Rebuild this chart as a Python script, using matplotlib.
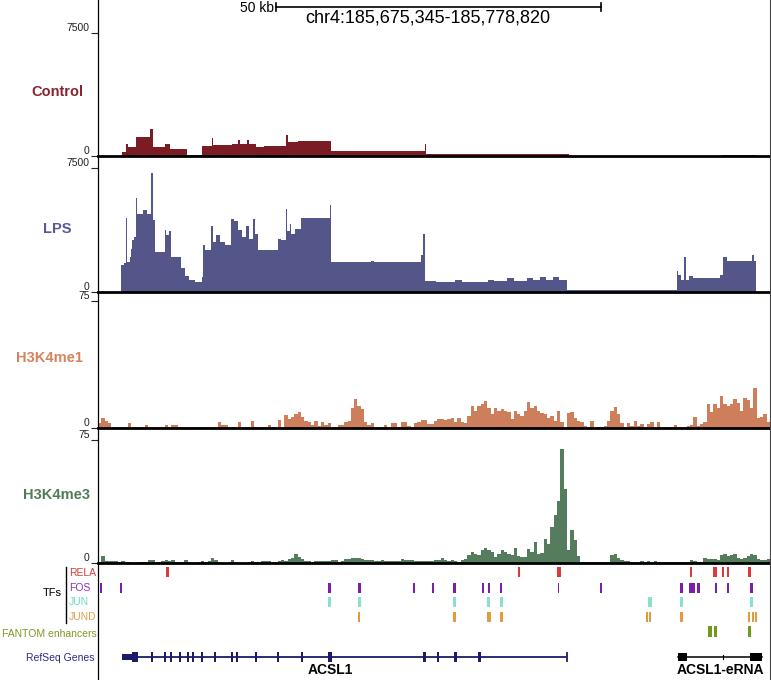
import numpy as np
import matplotlib
matplotlib.use("Agg")
import matplotlib.pyplot as plt
from matplotlib.lines import Line2D

plt.rcParams['font.family'] = ['Liberation Sans', 'DejaVu Sans']

# ---------------- data (genomic positions in kb from region start) ----------------
REGION = "chr4:185,675,345-185,778,820"
REGION_KB = 103.475
SCALE_KB = 50
SCALE_START_KB = 27.4

# Control signal (step profile): bin edges (kb) and values
control_edges = [0, 3.65, 4.25, 4.64, 5.78, 8.04, 8.50, 10.32, 11.09, 13.74,
                 16.02, 17.53, 17.76, 20.56, 21.5, 21.8, 23.0, 23.3, 24.36, 25.49,
                 28.91, 29.29, 30.80, 35.88, 50.30, 50.45, 72.53, 96.05, 101.33, 103.475]
control_vals = [0, 260, 750, 525, 1180, 1650, 525, 750, 450, 75,
                600, 1125, 675, 750, 975, 750, 1000, 720, 525, 600,
                1275, 825, 900, 330, 750, 100, 0, 45, 0]

# LPS signal (step profile)
lps_edges = [0, 3.59, 4.00, 4.31, 4.52, 4.88, 5.13, 5.29, 5.54, 5.80,
             6.01, 6.93, 7.60, 8.21, 8.47, 8.73, 10.27, 10.52, 10.88, 11.19,
             12.83, 13.35, 13.96, 14.89, 16.02, 16.22, 16.53, 17.45, 17.76, 18.22,
             18.74, 19.51, 20.53, 20.89, 21.56, 22.18, 22.84, 23.21, 23.87, 24.22,
             24.64, 27.72, 28.13, 28.90, 29.15, 29.52, 29.77, 30.38, 31.21, 35.73,
             35.93, 42.0, 42.5, 49.69, 50.05, 50.31, 52, 55, 56, 60,
             61, 63, 64, 66, 67, 68, 69, 70, 71, 72.17,
             89.12, 89.37, 89.74, 90.30, 90.51, 91.07, 91.68, 95.79, 96.21, 96.82,
             100.67, 101.07, 101.33, 103.475]
lps_vals = [0, 1650, 1725, 4500, 1800, 2100, 2625, 3150, 3300, 5700,
            4725, 4950, 4725, 7200, 4350, 2400, 3750, 3450, 3675, 2100,
            1425, 975, 750, 600, 900, 2850, 2550, 3975, 3000, 3450,
            3000, 2850, 4425, 4275, 3750, 3300, 3975, 3225, 4425, 3525,
            2550, 3225, 3150, 5025, 3675, 4125, 3525, 3825, 4500, 5250,
            1800, 1875, 1800, 2250, 3525, 675, 600, 750, 600, 750,
            675, 825, 675, 825, 750, 900, 750, 900, 750, 120,
            1275, 1050, 750, 2100, 750, 975, 825, 1050, 2100, 1875,
            2250, 1875, 0]

# H3K4me1 signal, equal-width bins across the region
h3k4me1_vals = [3, 6, 4, 3, 0.5, 0.5, 0.5, 0.3, 0.5, 3,
                0.3, 0.3, 0.3, 0.5, 2, 0.8, 0.5, 0.8, 0.5, 0.5,
                2, 0.8, 1.5, 1.8, 0.3, 0.3, 0.3, 0.3, 0.3, 0.3,
                0.8, 0.8, 0.5, 0.5, 0.5, 0.5, 3.3, 1.8, 1.8, 0.3,
                0.3, 0.3, 3.3, 0.5, 0.5, 0.5, 4, 0.3, 0.3, 0.3,
                0.3, 1.8, 0.5, 0.5, 4.7, 0.5, 7.8, 5.3, 6.6, 8.2,
                9.2, 6.6, 4.3, 3.3, 2, 3.9, 1.2, 3.3, 1.8, 2.7,
                0.8, 0.8, 1.5, 1.5, 3.3, 3.9, 12, 17, 13, 11,
                3.3, 1.5, 3, 0.5, 0.5, 0.5, 2, 0.5, 2.7, 2.7,
                0.8, 3.3, 3.3, 1.3, 0.8, 2.7, 3.5, 4.5, 4.7, 2.3,
                2.3, 4.3, 5.3, 5.5, 4.5, 5.3, 5.8, 3.3, 5.9, 3.5,
                3, 7, 13, 10, 13, 14, 16, 12, 8, 12,
                10, 11, 10, 9.2, 5.3, 10, 8.2, 7, 10, 15.6,
                12, 13, 10, 9, 8, 6.2, 7, 4.3, 10, 3.3,
                0.8, 9, 9.5, 6.2, 4.3, 3.3, 1.3, 0.8, 4.3, 0.8,
                0.4, 0.4, 1.3, 4.3, 10, 12.5, 8, 3, 0.8, 2.7,
                1.3, 4.3, 1.3, 2.3, 0.8, 2.3, 3.3, 0.8, 3.3, 0.8,
                0.4, 0.4, 0.4, 1.6, 0.4, 0.4, 0.8, 1.3, 1.9, 6.6,
                1.3, 2.3, 3.3, 14, 9.2, 14, 12, 19, 14, 13,
                14, 17, 15, 10, 17.6, 16.5, 12, 23.4, 6, 6.6,
                8.2, 3.3]

# H3K4me3 signal, equal-width bins across the region
h3k4me3_vals = [0.5, 4, 1.2, 1, 1, 1, 0.8, 1, 0.5, 0.5,
                0.3, 0.3, 0.5, 0.5, 0.8, 1.6, 1.6, 0.5, 0.8, 1.5,
                2, 1.2, 1.6, 0.8, 0.8, 0.5, 1.6, 0.8, 0.3, 0.3,
                0.5, 1.2, 0.8, 1, 3.2, 1.6, 0.8, 0.3, 0.3, 0.5,
                2, 0.8, 0.3, 0.3, 0.3, 0.5, 1.2, 0.5, 0.8, 1,
                1, 1, 0.8, 0.5, 1, 1.6, 1, 2.5, 3.2, 5.3,
                3.6, 2.6, 1.2, 1.2, 0.8, 1.2, 1, 1.2, 1, 1.2,
                1.6, 1.6, 0.8, 1, 2.2, 2.6, 3.2, 3, 3.2, 2.4,
                1.6, 1.6, 1.6, 1.2, 1.2, 1.6, 1.2, 1.2, 1.2, 1,
                1.2, 2.4, 1.6, 1.6, 1.6, 1.2, 1.2, 1.2, 1, 1,
                1.2, 1.6, 2, 3.2, 1.6, 1.2, 2, 1.2, 0.6, 2,
                2.6, 4.7, 6.7, 5.7, 4.7, 7.7, 9.4, 8, 6.7, 3.7,
                5.7, 8, 6.7, 5.7, 4.7, 9.4, 4, 3.7, 3.7, 8.7,
                6.7, 12.8, 5.7, 6.1, 14.8, 11.8, 22, 29, 38, 69.7,
                45, 7.7, 20.3, 14, 4, 0.4, 0.4, 0.4, 0.8, 0.8,
                0.8, 0.8, 0.8, 0.8, 4.7, 5.7, 3.2, 1.6, 1.2, 1.2,
                0.8, 0.8, 0.8, 1, 0.8, 1, 0.8, 1, 0.8, 0.8,
                0.6, 0.6, 0.6, 0.8, 0.6, 0.6, 0.6, 0.6, 1.6, 1.2,
                0.6, 0.6, 3.2, 2.6, 2.6, 2.6, 2, 4.7, 5.7, 4,
                4.7, 5.7, 3.2, 2.6, 3.2, 4, 5.7, 4.7, 2.6, 1.6,
                2, 2.6]

# TF binding sites (start, end in kb)
rela_start = [10.47, 64.63, 70.64, 91.17, 94.71, 96.05, 96.82, 100.15]
rela_end   = [10.98, 64.99, 71.26, 91.52, 95.28, 96.40, 97.22, 100.56]
fos_start = [0.31, 3.39, 35.42, 40.04, 48.46, 51.39, 54.72, 59.09, 60.11, 61.91,
             70.79, 77.31, 89.63, 91.06, 92.20, 95.02, 96.82, 100.42]
fos_end   = [0.62, 3.74, 35.88, 40.50, 48.82, 51.79, 55.13, 59.49, 60.37, 62.26,
             71.04, 77.57, 90.14, 91.94, 92.71, 95.28, 97.17, 100.84]
jun_start = [35.42, 40.04, 54.72, 59.95, 61.91, 84.75, 89.63, 100.42]
jun_end   = [35.88, 40.50, 55.13, 60.37, 62.32, 85.27, 90.04, 100.84]
jund_start = [40.04, 54.72, 59.86, 61.91, 84.35, 84.81, 89.63, 100.15, 100.67, 101.18]
jund_end   = [40.35, 55.13, 60.48, 62.32, 84.65, 85.16, 90.14, 100.45, 100.98, 101.49]
fantom_start = [93.99, 94.82, 100.06]
fantom_end   = [94.62, 95.37, 100.56]

# RefSeq genes
acsl1_span = (3.65, 72.27)
acsl1_utr = (3.70, 5.24)
acsl1_exon_start = [5.24, 8.13, 10.16, 11.09, 12.47, 13.75, 14.43, 15.91, 17.86, 20.53,
                    21.30, 24.18, 27.61, 31.22, 35.47, 50.00, 52.16, 54.82, 58.57]
acsl1_exon_end   = [6.16, 8.41, 10.47, 11.39, 12.78, 14.06, 14.74, 16.22, 18.17, 20.84,
                    21.61, 24.53, 27.92, 31.52, 35.99, 50.51, 52.56, 55.24, 58.94]
erna_span = (89.27, 102.21)
erna_exon_start = [89.27, 100.42]
erna_exon_end   = [90.66, 102.21]
erna_mark = 96.30

# ---------------- layout helpers (pixel geometry of the panel) ----------------
W_PX, H_PX = 771, 680
X0, X1 = 98, 770


def fx(px):
    return px / W_PX


def fy(py):
    return 1 - py / H_PX


def rect(top, bottom, left=X0, right=X1):
    return [left / W_PX, 1 - bottom / H_PX, (right - left) / W_PX, (bottom - top) / H_PX]


fig = plt.figure(figsize=(W_PX / 100, H_PX / 100), dpi=100)

tracks = [
    ("Control", np.array(control_edges), control_vals, 7500, "#7b1b24", "#8a2431", (33, 156), (57, 92)),
    ("LPS", np.array(lps_edges), lps_vals, 7500, "#545689", "#56589a", (168, 292), (57, 229)),
    ("H3K4me1", np.linspace(0, REGION_KB, len(h3k4me1_vals) + 1), h3k4me1_vals, 75,
     "#cd7f5b", "#d4835c", (301, 428), (49, 358)),
    ("H3K4me3", np.linspace(0, REGION_KB, len(h3k4me3_vals) + 1), h3k4me3_vals, 75,
     "#557d5d", "#4f7b58", (440, 563), (57, 495)),
]

for name, edges, vals, ymax, fill_c, lab_c, (top, bot), (lx, ly) in tracks:
    ax = fig.add_axes(rect(top, bot))
    ax.stairs(vals, edges, fill=True, color=fill_c, linewidth=0.3)
    ax.set_xlim(0, REGION_KB)
    ax.set_ylim(0, ymax)
    for s in ("top", "right", "left"):
        ax.spines[s].set_visible(False)
    ax.spines["bottom"].set_linewidth(2.0)
    ax.spines["bottom"].set_color("black")
    ax.set_xticks([])
    ax.set_yticks([0, ymax])
    ax.set_yticklabels(["0", str(ymax)])
    ax.tick_params(axis="y", length=5, width=0.8, pad=1, labelsize=7.5, colors="#222222")
    for lbl in ax.get_yticklabels():
        lbl.set_va("bottom")
    ax.patch.set_alpha(0)
    fig.text(fx(lx), fy(ly), name, ha="center", va="center", fontsize=10.5,
             fontweight="bold", color=lab_c)

# ---------------- scale bar / region ----------------
ax_r = fig.add_axes(rect(0, 33))
ax_r.set_xlim(0, REGION_KB)
ax_r.set_ylim(33, 0)
ax_r.axis("off")
s0, s1 = SCALE_START_KB, SCALE_START_KB + SCALE_KB
ax_r.plot([s0, s1], [7, 7], color="black", lw=1.2)
ax_r.plot([s0, s0], [3, 11], color="black", lw=1.2)
ax_r.plot([s1, s1], [3, 11], color="black", lw=1.2)
ax_r.text(s0 - 0.3, 7.5, f"{SCALE_KB} kb", ha="right", va="center", fontsize=10)
fig.text(fx(428), fy(18), REGION, ha="center", va="center", fontsize=13)

# ---------------- annotation tracks ----------------
ax_a = fig.add_axes(rect(563, 680))
ax_a.set_xlim(0, REGION_KB)
ax_a.set_ylim(117, 0)
ax_a.axis("off")


def marks(starts, ends, yc, h, color):
    ax_a.broken_barh([(s, e - s) for s, e in zip(starts, ends)], (yc - h / 2, h),
                     facecolors=color, edgecolor="none")


marks(rela_start, rela_end, 9, 10, "#dc3a3a")
marks(fos_start, fos_end, 25, 10, "#7a1fa6")
marks(jun_start, jun_end, 39, 10, "#8ae0c9")
marks(jund_start, jund_end, 54, 10, "#e59a3e")
marks(fantom_start, fantom_end, 68, 11, "#6f9a1d")

navy = "#1b1b6c"
ax_a.plot(acsl1_span, [94, 94], color=navy, lw=1.3, solid_capstyle="butt")
ax_a.broken_barh([(acsl1_utr[0], acsl1_utr[1] - acsl1_utr[0])], (91, 6), facecolors=navy)
marks(acsl1_exon_start, acsl1_exon_end, 94, 10, navy)
ax_a.plot([acsl1_span[1]] * 2, [90, 98], color=navy, lw=1.3)
ax_a.text(np.mean(acsl1_exon_start[14:15] + acsl1_exon_end[14:15]), 107, "ACSL1",
          ha="center", va="center", fontsize=10, fontweight="bold")

ax_a.plot(erna_span, [94, 94], color="black", lw=1.1)
marks(erna_exon_start, erna_exon_end, 94, 8, "black")
ax_a.plot([erna_mark] * 2, [92, 96], color="black", lw=0.8)
ax_a.text(np.mean(erna_span) + 0.1, 107, "ACSL1-eRNA", ha="center", va="center",
          fontsize=10, fontweight="bold")

# left labels for annotation tracks
fig.text(fx(62), fy(593), "TFs", ha="right", va="center", fontsize=8, color="black")
fig.add_artist(Line2D([fx(66), fx(66)], [fy(567), fy(623)], color="black", lw=1.0))
for lab, yy, c in [("RELA", 573, "#d63b3b"), ("FOS", 588, "#8636b8"),
                   ("JUN", 602, "#6fd8c5"), ("JUND", 617, "#e2a04a")]:
    fig.text(fx(69), fy(yy), lab, ha="left", va="center", fontsize=7.5, color=c)
fig.text(fx(97), fy(634), "FANTOM enhancers", ha="right", va="center", fontsize=7.5, color="#7b9a22")
fig.text(fx(95), fy(658), "RefSeq Genes", ha="right", va="center", fontsize=7.5, color="#2a2a86")

# full-height frame lines
fig.add_artist(Line2D([fx(98.5), fx(98.5)], [0, 1], color="black", lw=0.9))
fig.add_artist(Line2D([fx(769.5), fx(769.5)], [0, 1], color="#444444", lw=0.8))

fig.savefig("out.png", dpi=100)
